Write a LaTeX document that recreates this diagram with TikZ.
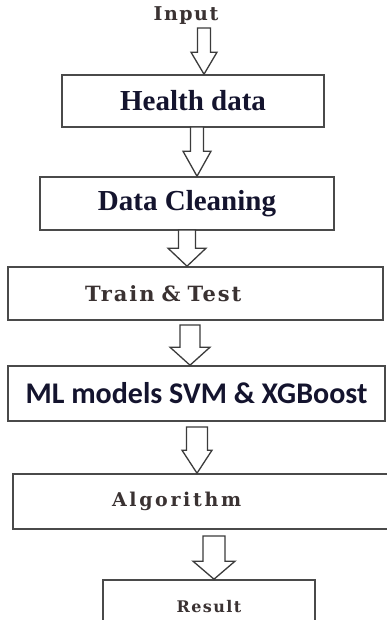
\documentclass[tikz,border=0pt]{standalone}
\usepackage{fontspec}
\setmainfont{Liberation Serif}
\newfontfamily\timesfont{Liberation Serif}
\newfontfamily\widefont{DejaVu Serif}
\newfontfamily\calibrifont{Carlito}
\usetikzlibrary{calc}
\definecolor{boxgray}{HTML}{4A4A4A}
\definecolor{inkblue}{HTML}{14142E}
\definecolor{softink}{HTML}{3A3232}
% hollow block arrow: tail coordinate, target box, half shaft, half head, head length
\newcommand{\flowarrow}[5]{%
\draw[arrowline] let \p1=(#1), \p2=(#2.north) in
 (\x1-#3pt,\y1) -- (\x1-#3pt,\y2+#5pt) -- (\x1-#4pt,\y2+#5pt) -- (\x1,\y2)
 -- (\x1+#4pt,\y2+#5pt) -- (\x1+#3pt,\y2+#5pt) -- (\x1+#3pt,\y1) -- cycle;}

\begin{document}
\begin{tikzpicture}[x=1pt,y=-1pt,
  box/.style={draw=boxgray, line width=1.6pt, fill=white, inner sep=0pt},
  arrowline/.style={draw=boxgray!80!black, line width=1.3pt, fill=white},
  bigserif/.style={text=inkblue, font=\timesfont\bfseries\fontsize{29}{32}\selectfont},
  softserif/.style={text=softink}]
\clip (0,0) rectangle (387,620);
\fill[white] (0,0) rectangle (387,620);
% input label
\node[softserif, font=\widefont\bfseries\fontsize{19}{21}\selectfont\addfontfeature{LetterSpace=8}] (inp) at (186,16) {Input};
% boxes
\node[box, bigserif, minimum width=262, minimum height=52] (hd) at (193,101) {Health data};
\node[box, bigserif, minimum width=294, minimum height=53] (dc) at (187,203.5) {Data Cleaning};
\node[box, softserif, minimum width=375, minimum height=53, text width=221, inner xsep=77, align=left,
  font=\widefont\bfseries\fontsize{21}{24}\selectfont\addfontfeature{LetterSpace=9}] (tt) at (195.5,293.5) {Train \& Test};
\node[box, minimum width=377, minimum height=55, text=inkblue,
  font=\calibrifont\bfseries\fontsize{30}{33}\selectfont] (ml) at (196.5,393.5) {ML models SVM \& XGBoost};
\node[box, softserif, minimum width=387, minimum height=55, text width=189, inner xsep=99, align=left,
  font=\widefont\bfseries\fontsize{19}{22}\selectfont\addfontfeature{LetterSpace=14}] (alg) at (206.5,501.5) {Algorithm};
\node[box, softserif, minimum width=212, minimum height=54,
  font=\widefont\bfseries\fontsize{16}{19}\selectfont\addfontfeature{LetterSpace=9}] (res) at (209,607) {Result};
% arrow tails
\coordinate (t1) at (204,28);
\coordinate (t2) at (197,127);
\coordinate (t3) at (187,230);
\coordinate (t4) at (190,325);
\coordinate (t5) at (197,427);
\coordinate (t6) at (214,536);
% arrows
\flowarrow{t1}{hd}{6.5}{13}{22}
\flowarrow{t2}{dc}{6.5}{14}{25}
\flowarrow{t3}{tt}{8.5}{19}{18}
\flowarrow{t4}{ml}{10}{20}{18}
\flowarrow{t5}{alg}{10.5}{15}{23}
\flowarrow{t6}{res}{11}{21}{18}
\end{tikzpicture}
\end{document}
